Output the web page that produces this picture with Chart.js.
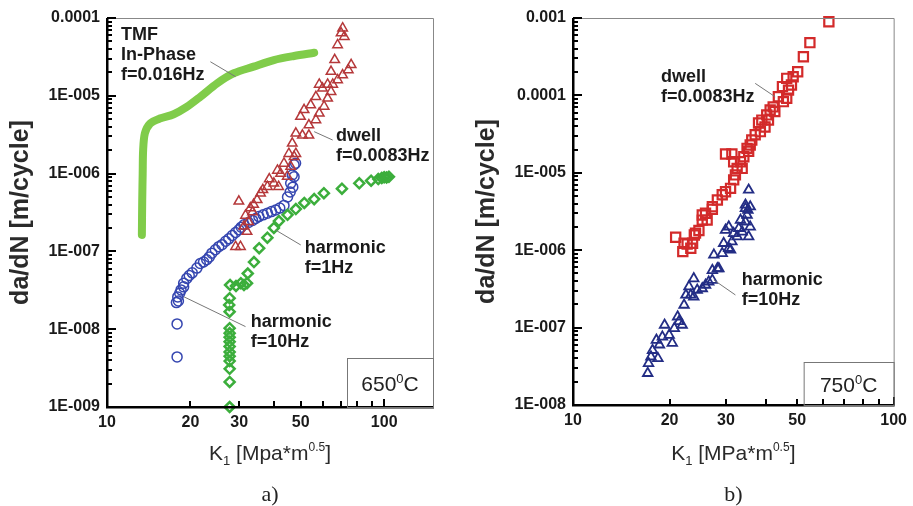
<!DOCTYPE html>
<html>
<head>
<meta charset="utf-8">
<script src="https://cdn.jsdelivr.net/npm/chart.js@4.4.1/dist/chart.umd.min.js"></script>
<style>
  body { margin: 0; background: #fff; width: 913px; height: 506px; position: relative; overflow: hidden; }
  .panel { position: absolute; top: 0; height: 506px; }
  #boxA { left: 0; width: 456px; }
  #boxB { left: 456px; width: 457px; }
</style>
</head>
<body>
<div class="panel" id="boxA"><canvas id="chartA" width="456" height="506"></canvas></div>
<div class="panel" id="boxB"><canvas id="chartB" width="457" height="506"></canvas></div>
<script>
// ---- panel a) 650C ----
const tmfK  = [13.36, 13.4, 13.45, 13.5, 13.7, 14.3, 15.5, 17.4, 19.4, 21.7, 25.0, 28.7, 33.8, 40.0, 47.3, 55.9];
const tmfDa = [1.63e-7, 4.6e-7, 1.0e-6, 2.0e-6, 3.3e-6, 4.4e-6, 5.1e-6, 5.8e-6, 7.2e-6, 9.7e-6, 1.45e-5, 1.95e-5, 2.37e-5, 2.88e-5, 3.25e-5, 3.58e-5];

const h10K  = [17.9, 17.9, 17.8, 18.1, 18.0, 18.3, 18.5, 18.9, 18.9, 19.4, 19.8, 20.3, 21.1, 21.7, 22.3, 22.9, 23.4, 23.9, 24.6, 25.3, 26.0, 26.8, 27.5, 28.3, 29.1, 29.9, 30.5, 31.2, 32.4, 33.5, 34.4, 35.3, 36.6, 37.9, 39.2, 40.6, 42.0, 43.5, 44.8, 45.8, 46.0, 46.8, 47.3, 46.6, 47.3, 47.9];
const h10Da = [4.4e-9, 1.17e-8, 2.2e-8, 2.3e-8, 2.6e-8, 2.9e-8, 3.2e-8, 3.5e-8, 3.9e-8, 4.5e-8, 4.9e-8, 5.3e-8, 6.1e-8, 7.0e-8, 7.3e-8, 7.8e-8, 8.5e-8, 9.5e-8, 1.05e-7, 1.15e-7, 1.22e-7, 1.35e-7, 1.45e-7, 1.6e-7, 1.75e-7, 1.9e-7, 2.05e-7, 2.2e-7, 2.35e-7, 2.5e-7, 2.65e-7, 2.8e-7, 2.95e-7, 3.1e-7, 3.25e-7, 3.4e-7, 3.6e-7, 3.9e-7, 5.0e-7, 5.8e-7, 7.5e-7, 6.7e-7, 9.1e-7, 9.6e-7, 1.3e-6, 1.36e-6];

const h1K  = [27.7, 27.7, 27.7, 27.7, 27.7, 27.7, 27.7, 27.7, 27.7, 27.7, 27.7, 27.7, 27.6, 27.7, 27.8, 29.2, 30.4, 31.2, 32.0, 32.2, 33.9, 35.4, 37.9, 40.0, 41.7, 44.8, 48.0, 51.5, 55.9, 60.6, 70.4, 81.3, 89.7, 95.2, 98.0, 100, 102, 104];
const h1Da = [1.0e-9, 2.1e-9, 3.1e-9, 3.9e-9, 4.5e-9, 5.1e-9, 6.0e-9, 6.9e-9, 7.9e-9, 8.9e-9, 1.03e-8, 1.68e-8, 2.05e-8, 2.5e-8, 3.7e-8, 3.6e-8, 3.9e-8, 3.7e-8, 3.9e-8, 5.2e-8, 7.3e-8, 1.1e-7, 1.5e-7, 2.0e-7, 2.45e-7, 2.95e-7, 3.5e-7, 4.2e-7, 4.7e-7, 5.6e-7, 6.4e-7, 7.5e-7, 8.1e-7, 8.5e-7, 8.8e-7, 9.0e-7, 8.9e-7, 9.1e-7];

const dwellAK  = [70.8, 69.9, 71.8, 67.9, 66.3, 76.0, 74.2, 64.3, 70.8, 67.9, 58.3, 62.5, 65.2, 59.9, 64.3, 56.7, 62.5, 54.3, 60.7, 51.4, 58.3, 49.9, 56.7, 53.5, 48.0, 50.7, 53.5, 46.6, 45.3, 47.3, 48.0, 43.5, 46.0, 41.2, 42.3, 44.7, 40.0, 38.5, 41.6, 37.9, 36.5, 35.8, 34.8, 29.9, 33.8, 32.9, 33.5, 31.6, 32.4, 31.2, 32.0, 29.1, 30.3];
const dwellADa = [7.4e-5, 6.4e-5, 5.75e-5, 4.5e-5, 2.9e-5, 2.5e-5, 2.15e-5, 2.05e-5, 1.85e-5, 1.6e-5, 1.4e-5, 1.4e-5, 1.4e-5, 1.25e-5, 1.13e-5, 9.7e-6, 9.3e-6, 7.6e-6, 7.3e-6, 6.6e-6, 5.95e-6, 5.4e-6, 4.9e-6, 4.2e-6, 3.3e-6, 3.1e-6, 3.1e-6, 2.45e-6, 1.8e-6, 1.65e-6, 1.8e-6, 1.35e-6, 1.23e-6, 1.1e-6, 1.0e-6, 9.2e-7, 7.5e-7, 8.5e-7, 6.8e-7, 6.8e-7, 6.2e-7, 5.6e-7, 4.6e-7, 4.4e-7, 4.0e-7, 3.6e-7, 3.2e-7, 2.9e-7, 2.4e-7, 2.1e-7, 1.8e-7, 1.15e-7, 1.15e-7];

// ---- panel b) 750C ----
const dwellBK  = [62.8, 54.8, 52.3, 50.2, 48.6, 46.4, 48.0, 45.0, 47.0, 43.7, 46.4, 45.3, 42.1, 41.2, 42.6, 40.2, 38.8, 40.7, 37.9, 39.7, 38.4, 37.0, 36.1, 35.7, 34.9, 35.3, 34.1, 29.9, 31.3, 31.7, 33.3, 32.5, 33.7, 32.1, 31.7, 31.0, 29.9, 29.2, 28.2, 27.2, 27.2, 25.9, 25.3, 26.2, 25.3, 24.7, 24.1, 23.9, 23.6, 22.7, 22.2, 23.3, 22.0, 20.9];
const dwellBDa = [8.96e-4, 4.8e-4, 3.16e-4, 2.02e-4, 1.74e-4, 1.66e-4, 1.36e-4, 1.3e-4, 1.17e-4, 9.6e-5, 9.2e-5, 8.3e-5, 7.1e-5, 6.5e-5, 6.2e-5, 5.6e-5, 4.8e-5, 4.8e-5, 4.4e-5, 3.9e-5, 3.4e-5, 3.1e-5, 2.65e-5, 2.29e-5, 2.07e-5, 1.9e-5, 1.61e-5, 1.75e-5, 1.75e-5, 1.39e-5, 1.39e-5, 1.14e-5, 1.14e-5, 9.4e-6, 8.1e-6, 6.3e-6, 5.7e-6, 5.2e-6, 4.45e-6, 3.65e-6, 3.37e-6, 3.0e-6, 2.85e-6, 2.45e-6, 2.45e-6, 1.8e-6, 1.66e-6, 1.57e-6, 1.23e-6, 1.2e-6, 1.23e-6, 1.06e-6, 9.6e-7, 1.47e-6];

const harmBK  = [17.1, 17.2, 17.5, 18.4, 17.7, 18.2, 18.6, 19.0, 19.3, 19.95, 20.4, 20.7, 21.2, 21.4, 21.9, 22.2, 22.5, 23.0, 23.3, 23.8, 23.8, 24.4, 25.3, 25.9, 26.5, 27.2, 27.2, 28.2, 28.5, 27.5, 29.2, 29.5, 30.6, 29.9, 30.6, 31.3, 31.0, 31.7, 32.5, 32.9, 33.7, 33.3, 34.5, 34.9, 34.5, 35.7, 35.7, 35.3, 35.3, 34.5, 35.1];
const harmBDa = [2.57e-8, 3.46e-8, 4.2e-8, 4.0e-8, 5.1e-8, 6.9e-8, 6.0e-8, 7.6e-8, 1.08e-7, 8.0e-8, 6.3e-8, 9.8e-8, 1.38e-7, 1.2e-7, 1.08e-7, 1.96e-7, 2.64e-7, 3.38e-7, 2.64e-7, 4.3e-7, 2.5e-7, 3.06e-7, 3.2e-7, 3.55e-7, 3.9e-7, 4.1e-7, 5.5e-7, 5.8e-7, 5.8e-7, 8.7e-7, 9.1e-7, 1.23e-6, 1.06e-6, 1.82e-6, 2.01e-6, 1.29e-6, 1.01e-6, 1.65e-6, 1.5e-6, 1.92e-6, 1.73e-6, 2.45e-6, 2.33e-6, 2.85e-6, 3.47e-6, 3.65e-6, 2.0e-6, 1.5e-6, 6.0e-6, 3.84e-6, 3.3e-6];

// ---- axes ----
const xTickValues = [10, 20, 30, 50, 100];
const xTickLabels = ['10', '20', '30', '50', '100'];
const yTickValuesA = [1e-9, 1e-8, 1e-7, 1e-6, 1e-5, 1e-4];
const yTickLabelsA = ['1E-009', '1E-008', '1E-007', '1E-006', '1E-005', '0.0001'];
const yTickValuesB = [1e-8, 1e-7, 1e-6, 1e-5, 1e-4, 1e-3];
const yTickLabelsB = ['1E-008', '1E-007', '1E-006', '1E-005', '0.0001', '0.001'];

// ---- annotations (anchor K, da/dN of first text baseline) ----
const notesA = [
  { k: 11.24, d: 5.2e-5, lines: ['TMF', 'In-Phase', 'f=0.016Hz'] },
  { k: 67.0, d: 2.62e-6, lines: ['dwell', 'f=0.0083Hz'] },
  { k: 51.7, d: 9.5e-8, lines: ['harmonic', 'f=1Hz'] },
  { k: 33.0, d: 1.08e-8, lines: ['harmonic', 'f=10Hz'] }
];
const leadersA = [[23.6, 2.74e-5, 29.1, 1.76e-5], [55.9, 3.46e-6, 65.2, 2.7e-6], [40.6, 1.88e-7, 50.0, 1.21e-7], [18.9, 2.62e-8, 31.6, 1.08e-8]];
const notesB = [
  { k: 18.8, d: 1.5e-4, lines: ['dwell', 'f=0.0083Hz'] },
  { k: 33.6, d: 3.55e-7, lines: ['harmonic', 'f=10Hz'] }
];
const leadersB = [[37.0, 1.43e-4, 42.7, 9.6e-5], [27.5, 4.12e-7, 32.1, 2.64e-7]];

const FONT = "'Liberation Sans', Arial, sans-serif";

function pts(xs, ys) {
  return xs.map((x, i) => ({ x: x, y: ys[i] }));
}

function logTicks(min, max) {
  const out = [];
  const e0 = Math.round(Math.log10(min)), e1 = Math.round(Math.log10(max));
  for (let e = e0; e <= e1; e++) {
    for (let m = 1; m <= 9; m++) {
      const v = m * Math.pow(10, e);
      if (v >= min * 0.999 && v <= max * 1.001) out.push({ value: v });
    }
  }
  return out;
}

function labelFor(v, vals, labs) {
  for (let i = 0; i < vals.length; i++) {
    if (Math.abs(Math.log10(v / vals[i])) < 1e-6) return labs[i];
  }
  return '';
}

// draws frame, inward ticks, titles, notes, temperature box
function makeDecor(cfg) {
  return {
    id: 'decor',
    afterDraw(chart) {
      const ctx = chart.ctx;
      const a = chart.chartArea;
      const xs = chart.scales.x, ys = chart.scales.y;
      ctx.save();

      // frame
      ctx.strokeStyle = '#888';
      ctx.lineWidth = 1;
      ctx.beginPath();
      ctx.moveTo(a.left, a.top + 0.5); ctx.lineTo(a.right + 0.5, a.top + 0.5); ctx.lineTo(a.right + 0.5, a.bottom);
      ctx.stroke();
      ctx.fillStyle = '#000';
      ctx.fillRect(a.left - 1, a.top, 2.5, a.bottom - a.top + 1);
      ctx.fillRect(a.left - 1, a.bottom - 1, a.right - a.left + 2, 2.5);

      // inward tick marks
      logTicks(cfg.yMin, cfg.yMax).forEach(t => {
        const py = Math.round(ys.getPixelForValue(t.value));
        const len = labelFor(t.value, cfg.yVals, cfg.yLabs) ? 9 : 5;
        ctx.fillRect(a.left, py - 1, len, 2);
      });
      logTicks(10, cfg.xMax).forEach(t => {
        const px = Math.round(xs.getPixelForValue(t.value));
        const len = (t.value === 100) ? 8 : 6;
        ctx.fillRect(px - 1, a.bottom - len, 2, len);
      });

      // temperature box
      const bx = a.right - cfg.boxW, by = a.bottom - cfg.boxH;
      ctx.strokeStyle = '#777';
      ctx.lineWidth = 1;
      ctx.strokeRect(bx + 0.5, by + 0.5, cfg.boxW, cfg.boxH);
      ctx.fillStyle = '#222';
      ctx.textBaseline = 'alphabetic';
      ctx.textAlign = 'left';
      ctx.font = '21px ' + FONT;
      const w1 = ctx.measureText(cfg.temp).width;
      ctx.font = '13px ' + FONT;
      const w2 = ctx.measureText('0').width;
      ctx.font = '21px ' + FONT;
      const w3 = ctx.measureText('C').width;
      let tx = bx + (cfg.boxW - (w1 + w2 + w3)) / 2;
      const tb = by + cfg.boxH / 2 + 8;
      ctx.fillText(cfg.temp, tx, tb); tx += w1;
      ctx.font = '13px ' + FONT;
      ctx.fillText('0', tx, tb - 8); tx += w2;
      ctx.font = '21px ' + FONT;
      ctx.fillText('C', tx, tb);

      // leader lines
      ctx.strokeStyle = '#777';
      ctx.lineWidth = 1;
      cfg.leaders.forEach(l => {
        ctx.beginPath();
        ctx.moveTo(xs.getPixelForValue(l[0]), ys.getPixelForValue(l[1]));
        ctx.lineTo(xs.getPixelForValue(l[2]), ys.getPixelForValue(l[3]));
        ctx.stroke();
      });

      // notes
      ctx.fillStyle = '#1a1a1a';
      ctx.font = 'bold 18px ' + FONT;
      cfg.notes.forEach(n => {
        const px = xs.getPixelForValue(n.k), py = ys.getPixelForValue(n.d);
        n.lines.forEach((s, i) => ctx.fillText(s, px, py + i * 20));
      });

      // y title
      ctx.save();
      ctx.translate(a.left - 86, (a.top + a.bottom) / 2);
      ctx.rotate(-Math.PI / 2);
      ctx.textAlign = 'center';
      ctx.textBaseline = 'middle';
      ctx.font = 'bold 25px ' + FONT;
      ctx.fillStyle = '#2a2a2a';
      ctx.fillText('da/dN [m/cycle]', 0, 0);
      ctx.restore();

      // x title with sub/superscript
      const parts = [
        { s: 'K', f: '21px', dy: 0 },
        { s: '1', f: '13px', dy: 5 },
        { s: ' [' + cfg.unit + '*m', f: '21px', dy: 0 },
        { s: '0.5', f: '12px', dy: -9 },
        { s: ']', f: '21px', dy: 0 }
      ];
      let total = 0;
      parts.forEach(p => { ctx.font = p.f + ' ' + FONT; p.w = ctx.measureText(p.s).width; total += p.w; });
      let xx = (a.left + a.right) / 2 - total / 2;
      ctx.fillStyle = '#2a2a2a';
      ctx.textAlign = 'left';
      ctx.textBaseline = 'alphabetic';
      parts.forEach(p => { ctx.font = p.f + ' ' + FONT; ctx.fillText(p.s, xx, 460 + p.dy); xx += p.w; });

      // caption
      ctx.font = '22px "Liberation Serif", serif';
      ctx.textAlign = 'center';
      ctx.fillStyle = '#222';
      ctx.fillText(cfg.caption, (a.left + a.right) / 2, 501);

      ctx.restore();
    }
  };
}

function makeChart(id, datasets, xMax, yMin, yMax, yVals, yLabs, padding, decorCfg) {
  const tickFont = { family: FONT, size: 16, weight: 'bold' };
  const cfg = Object.assign({ yVals: yVals, yLabs: yLabs, yMin: yMin, yMax: yMax, xMax: xMax }, decorCfg);
  return new Chart(document.getElementById(id), {
    type: 'scatter',
    data: { datasets: datasets },
    options: {
      responsive: false,
      animation: false,
      devicePixelRatio: 1,
      layout: { padding: padding },
      plugins: { legend: { display: false }, tooltip: { enabled: false } },
      scales: {
        x: {
          type: 'logarithmic', min: 10, max: xMax,
          grid: { display: false, drawTicks: false },
          border: { display: false },
          afterBuildTicks: s => { s.ticks = logTicks(10, xMax); },
          afterFit: s => { s.height = 60; },
          ticks: {
            autoSkip: false, maxRotation: 0, padding: 6, color: '#1a1a1a', font: tickFont,
            callback: v => labelFor(v, xTickValues, xTickLabels)
          }
        },
        y: {
          type: 'logarithmic', min: yMin, max: yMax,
          grid: { display: false, drawTicks: false },
          border: { display: false },
          afterBuildTicks: s => { s.ticks = logTicks(yMin, yMax); },
          afterFit: s => { s.width = 100; },
          ticks: {
            autoSkip: false, padding: 7, color: '#1a1a1a', font: tickFont,
            callback: v => labelFor(v, yVals, yLabs)
          }
        }
      }
    },
    plugins: [makeDecor(cfg)]
  });
}

const clear = 'rgba(255,255,255,0)';

makeChart('chartA', [
  { data: pts(dwellAK, dwellADa), pointStyle: 'triangle', radius: 5.5, borderWidth: 1.5, borderColor: '#b5383a', backgroundColor: clear, clip: false },
  { data: pts(h1K, h1Da), pointStyle: 'rectRot', radius: 5, borderWidth: 2.5, borderColor: '#3cae3c', backgroundColor: clear, clip: false },
  { data: pts(h10K, h10Da), pointStyle: 'circle', radius: 5, borderWidth: 1.5, borderColor: '#3546b0', backgroundColor: clear, clip: false },
  { data: pts(tmfK, tmfDa), showLine: true, tension: 0.3, borderWidth: 8, borderCapStyle: 'round', borderColor: '#80cc4a', pointRadius: 0 }
], 150, 1e-9, 1e-4, yTickValuesA, yTickLabelsA,
  { left: 7, right: 23, top: 18, bottom: 39 },
  { notes: notesA, leaders: leadersA, temp: '650', boxW: 86, boxH: 49, unit: 'Mpa', caption: 'a)' });

makeChart('chartB', [
  { data: pts(dwellBK, dwellBDa), pointStyle: 'rect', radius: 6.5, borderWidth: 2.2, borderColor: '#d32a2a', backgroundColor: clear, clip: false },
  { data: pts(harmBK, harmBDa), pointStyle: 'triangle', radius: 5.5, borderWidth: 1.8, borderColor: '#232d85', backgroundColor: clear, clip: false }
], 100, 1e-8, 1e-3, yTickValuesB, yTickLabelsB,
  { left: 17, right: 15, top: 18, bottom: 41 },
  { notes: notesB, leaders: leadersB, temp: '750', boxW: 90, boxH: 43, unit: 'MPa', caption: 'b)' });
</script>
</body>
</html>
